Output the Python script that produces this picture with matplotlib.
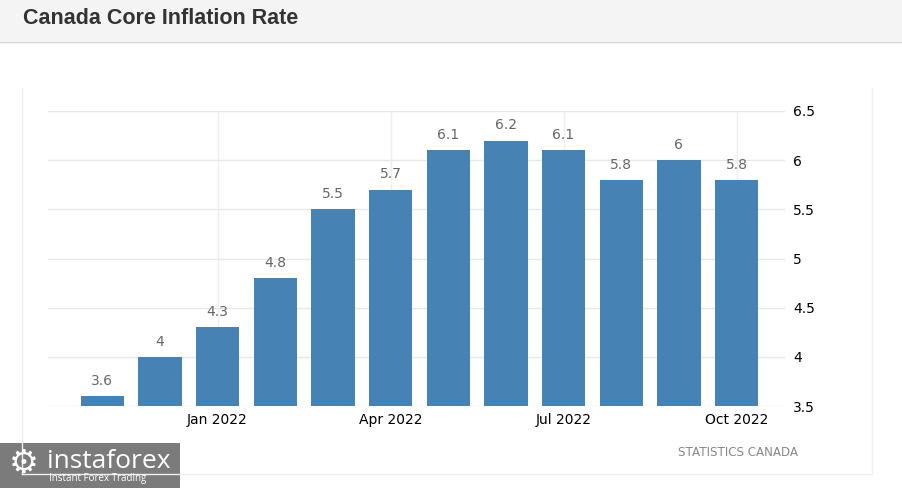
import matplotlib
matplotlib.use("Agg")
import matplotlib.pyplot as plt
from matplotlib.patches import Rectangle
from matplotlib.lines import Line2D

months = ["Nov 2021", "Dec 2021", "Jan 2022", "Feb 2022", "Mar 2022", "Apr 2022",
          "May 2022", "Jun 2022", "Jul 2022", "Aug 2022", "Sep 2022", "Oct 2022"]
values = [3.6, 4.0, 4.3, 4.8, 5.5, 5.7, 6.1, 6.2, 6.1, 5.8, 6.0, 5.8]
value_labels = ["3.6", "4", "4.3", "4.8", "5.5", "5.7", "6.1", "6.2", "6.1", "5.8", "6", "5.8"]
xtick_labels = ["Jan 2022", "Apr 2022", "Jul 2022", "Oct 2022"]
ytick_values = [3.5, 4, 4.5, 5, 5.5, 6, 6.5]
ytick_labels = ["3.5", "4", "4.5", "5", "5.5", "6", "6.5"]

W, H = 903, 488
fig = plt.figure(figsize=(W / 100, H / 100), dpi=100)
fig.patch.set_facecolor("white")

def fx(px):
    return px / W

def fy(py):
    return 1 - py / H

# header band
fig.patches.append(Rectangle((0, fy(41)), 1, 41 / H, transform=fig.transFigure,
                             facecolor="#f4f4f4", edgecolor="none", zorder=0))
fig.lines.append(Line2D([0, 1], [fy(41.5), fy(41.5)], transform=fig.transFigure,
                        color="#d4d4d4", lw=1))
fig.text(fx(23), fy(19), "Canada Core Inflation Rate", fontsize=15.5, fontweight="bold",
         family="Liberation Sans", color="#333333", va="center", ha="left")

# panel border (left, right, bottom)
for xs, ys in [([22, 22], [88, 474]), ([872, 872], [88, 474]), ([22, 872], [474, 474])]:
    fig.lines.append(Line2D([fx(v) for v in xs], [fy(v) for v in ys], transform=fig.transFigure,
                            color="#efefef", lw=1))

left, right = 48, 785
top, bottom = 111, 406
ax = fig.add_axes([fx(left), fy(bottom), (right - left) / W, (bottom - top) / H])
x = list(range(len(months)))
base = 3.5
ax.bar(x, [v - base for v in values], bottom=base, width=0.75, color="#4682b4", zorder=3)
for xi, v, lab in zip(x, values, value_labels):
    ax.annotate(lab, (xi, v), xytext=(0, 6), textcoords="offset points", ha="center",
                va="bottom", fontsize=10, color="#666666", family="DejaVu Sans")

ax.set_xlim(-0.94, 11.84)
ax.set_ylim(3.5, 6.5)
ax.set_yticks(ytick_values)
ax.set_yticklabels(ytick_labels)
ax.yaxis.tick_right()
xt = [months.index(m) for m in xtick_labels]
ax.set_xticks(xt)
ax.set_xticklabels(xtick_labels)
ax.tick_params(axis="both", length=0, labelsize=10, colors="black")
ax.tick_params(axis="y", pad=6)
ax.tick_params(axis="x", pad=5)
ax.grid(True, axis="y", color="#e8e8e8", lw=1, zorder=0)
ax.grid(True, axis="x", color="#eeeeee", lw=1, zorder=0)
for s in ax.spines.values():
    s.set_visible(False)
ax.set_facecolor("none")

fig.text(fx(798), fy(453), "STATISTICS CANADA", fontsize=8.6, color="#888888",
         ha="right", va="center", family="DejaVu Sans")

# instaforex logo
fig.patches.append(Rectangle((0, 0), 180 / W, 45 / H, transform=fig.transFigure,
                             facecolor="#7b7b7b", edgecolor="none", zorder=1))
fig.text(fx(24), fy(463), "\u2699", fontsize=24, color="white", ha="center", va="center",
         family="DejaVu Sans", zorder=2)
fig.text(fx(47), fy(461), "instaforex", fontsize=19, color="white", ha="left", va="center",
         family="Open Sans", zorder=2)
fig.text(fx(49), fy(479), "Instant Forex Trading", fontsize=7, color="white", ha="left",
         va="center", family="Open Sans", zorder=2)

fig.savefig("out.png", dpi=100)
